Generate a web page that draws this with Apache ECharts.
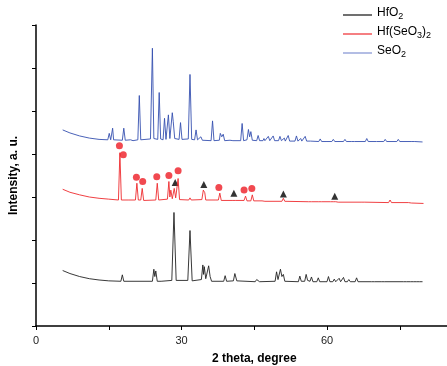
<!DOCTYPE html>
<html>
<head>
<meta charset="utf-8">
<script src="https://cdn.jsdelivr.net/npm/echarts@6/dist/echarts.min.js"></script>
<style>html,body{margin:0;padding:0;background:#fff}#c{width:447px;height:366px}</style>
</head>
<body>
<div id="c"></div>
<script>
// ---- data ----
const seriesNames = ['HfO2', 'Hf(SeO3)2', 'SeO2'];
const xTickLabels = [0, 30, 60];

const hfo2 = [[5.5,1.29],[7,1.22],[9,1.15],[11,1.1],[13,1.07],[15,1.05],[17.5,1.04],[17.8,1.19],[18.1,1.04],[24.0,1.04],[24.3,1.32],[24.5,1.15],[24.7,1.28],[25.0,1.04],[25.8,1.04],[26.0,1.06],[26.2,1.03],[28.0,1.06],[28.45,2.64],[28.9,1.06],[31.3,1.06],[31.75,2.22],[32.2,1.05],[34.1,1.08],[34.4,1.42],[34.55,1.2],[34.7,1.38],[35.0,1.1],[35.3,1.1],[35.6,1.4],[35.9,1.15],[36.2,1.04],[38.7,1.04],[39.0,1.17],[39.3,1.04],[40.7,1.05],[41.0,1.22],[41.4,1.05],[45.2,1.03],[45.5,1.08],[45.8,1.10],[46.1,1.03],[49.3,1.04],[49.6,1.26],[49.9,1.08],[50.1,1.1],[50.4,1.32],[50.7,1.15],[51.0,1.2],[51.3,1.04],[54.1,1.03],[54.4,1.16],[54.7,1.04],[55.4,1.04],[55.7,1.2],[56.0,1.06],[56.5,1.04],[56.8,1.14],[57.1,1.03],[57.9,1.03],[58.2,1.12],[58.5,1.03],[60.0,1.03],[60.3,1.15],[60.6,1.03],[61.2,1.03],[61.5,1.09],[61.8,1.03],[62.2,1.03],[62.5,1.11],[62.8,1.03],[63.1,1.03],[63.4,1.13],[63.7,1.03],[64.2,1.03],[64.5,1.08],[64.8,1.03],[65.8,1.03],[66.1,1.12],[66.4,1.03],[69.2,1.03],[69.5,1.06],[69.8,1.03],[71.3,1.03],[71.6,1.07],[71.9,1.03],[75.8,1.03],[76.1,1.07],[76.4,1.03],[77.2,1.03],[77.5,1.05],[77.8,1.03],[78.5,1.03],[78.8,1.05],[79.1,1.03],[79.7,1.03]];

const hfSeO3 = [[5.5,3.18],[7,3.11],[9,3.05],[11,3.0],[13,2.97],[15,2.95],[17.0,2.93],[17.3,4.03],[17.6,2.93],[19,2.93],[20.5,2.93],[20.8,3.32],[21.1,2.93],[21.6,2.93],[21.9,3.2],[22.2,2.92],[24.7,2.93],[25.0,3.32],[25.3,2.93],[27.1,2.95],[27.4,3.36],[27.6,3.0],[27.8,3.16],[28.1,2.96],[28.3,3.0],[28.5,3.2],[28.8,2.98],[29.0,3.0],[29.3,3.43],[29.6,2.94],[31.5,2.93],[31.75,2.98],[32.0,2.93],[34.2,2.94],[34.5,3.16],[34.8,3.1],[35.0,2.93],[37.1,2.93],[37.3,2.96],[37.6,2.93],[37.9,3.09],[38.2,2.92],[40.6,2.92],[40.9,2.96],[41.2,2.92],[42.9,2.92],[43.2,3.02],[43.5,2.91],[44.3,2.91],[44.6,3.05],[44.9,2.91],[46.6,2.91],[46.9,2.95],[47.2,2.9],[50.7,2.9],[51.0,2.97],[51.3,2.9],[56.2,2.89],[56.5,2.92],[56.8,2.89],[58.3,2.89],[58.6,2.93],[58.9,2.89],[60.7,2.89],[61.0,2.92],[61.3,2.89],[61.8,2.89],[62.0,2.91],[62.3,2.88],[67.2,2.88],[67.5,2.91],[67.8,2.88],[72.7,2.87],[73.0,2.93],[73.3,2.87],[76.8,2.87],[77.1,2.89],[77.4,2.86],[79.9,2.85]];

const seo2 = [[5.5,4.56],[7,4.49],[9,4.42],[11,4.37],[13,4.34],[14.8,4.33],[15.1,4.48],[15.4,4.33],[15.6,4.33],[15.8,4.6],[16.0,4.33],[17.8,4.32],[18.1,4.6],[18.4,4.32],[19.5,4.33],[20,4.31],[21.0,4.33],[21.3,5.36],[21.6,4.33],[23.6,4.35],[24.0,6.46],[24.3,4.36],[25.1,4.34],[25.4,5.43],[25.7,4.35],[26.2,4.33],[26.5,4.83],[26.8,4.34],[27.0,4.36],[27.3,4.91],[27.6,4.36],[27.8,4.40],[28.1,4.96],[28.3,4.75],[28.6,4.36],[29.5,4.34],[29.8,4.73],[30.1,4.34],[31.4,4.35],[31.75,5.85],[32.1,4.34],[32.7,4.33],[33.0,4.56],[33.3,4.33],[33.7,4.33],[34.0,4.4],[34.3,4.32],[36.1,4.31],[36.4,4.77],[36.7,4.31],[37.8,4.32],[38.0,4.48],[38.3,4.40],[38.6,4.46],[38.9,4.31],[40.0,4.32],[40.3,4.35],[40.6,4.31],[42.2,4.31],[42.5,4.71],[42.8,4.31],[43.5,4.33],[43.8,4.57],[44.05,4.40],[44.3,4.52],[44.6,4.32],[45.5,4.31],[45.8,4.43],[46.1,4.31],[46.8,4.31],[47.0,4.36],[47.2,4.31],[47.6,4.31],[47.9,4.41],[48.2,4.31],[48.6,4.31],[48.9,4.42],[49.2,4.31],[50.0,4.31],[50.3,4.41],[50.6,4.31],[51.0,4.31],[51.2,4.37],[51.4,4.30],[51.7,4.30],[52.0,4.43],[52.3,4.30],[53.4,4.30],[53.7,4.42],[54.0,4.30],[54.4,4.30],[54.6,4.36],[54.8,4.30],[55.2,4.30],[55.5,4.41],[55.8,4.30],[56.6,4.30],[56.8,4.34],[57.0,4.29],[58.3,4.29],[58.6,4.35],[58.9,4.29],[59.8,4.29],[60.0,4.33],[60.2,4.29],[61.0,4.29],[61.3,4.34],[61.6,4.29],[63.4,4.29],[63.7,4.34],[64.0,4.29],[65.1,4.29],[65.4,4.33],[65.7,4.29],[67.9,4.29],[68.2,4.36],[68.5,4.29],[70.2,4.29],[70.4,4.32],[70.6,4.29],[71.7,4.29],[72.0,4.34],[72.3,4.29],[74.4,4.29],[74.7,4.34],[75,4.29],[77.5,4.29],[77.8,4.33],[78.1,4.29],[79.7,4.28]];

const circleMarks = [[17.2,4.19],[18.0,3.98],[20.7,3.46],[22.0,3.36],[24.9,3.47],[27.4,3.5],[29.3,3.61],[37.7,3.22],[42.9,3.16],[44.5,3.2]];
const triangleMarks = [[28.7,3.34],[34.6,3.29],[40.8,3.09],[51.0,3.07],[61.6,3.02]];

// ---- chart ----
const FONT = 'Liberation Sans, Arial, sans-serif';
const lineColors = {'HfO2': '#222222', 'Hf(SeO3)2': '#ee2a2e', 'SeO2': '#3550b0'};
const legendColors = {'HfO2': '#222222', 'Hf(SeO3)2': '#f03a3e', 'SeO2': '#8a9ad6'};
const richName = {
  'HfO2': '{n|HfO}{s|2}',
  'Hf(SeO3)2': '{n|Hf(SeO}{s|3}{n|)}{s|2}',
  'SeO2': '{n|SeO}{s|2}'
};
const chart = echarts.init(document.getElementById('c'), null, {renderer: 'canvas'});
chart.setOption({
  animation: false,
  backgroundColor: '#ffffff',
  grid: {left: 36, top: 25, bottom: 40, width: 436.5, containLabel: false, outerBoundsMode: 'none'},
  legend: {
    data: seriesNames.map(n => ({name: n, icon: 'rect', itemStyle: {color: legendColors[n]}})),
    orient: 'vertical',
    left: 343,
    top: 7,
    padding: 0,
    itemWidth: 29,
    itemHeight: 1.3,
    itemGap: 3,
    formatter: name => richName[name],
    textStyle: {
      fontFamily: FONT,
      rich: {
        n: {fontSize: 12, fontFamily: FONT, color: '#000', lineHeight: 12, padding: [0, 0, 4, 0]},
        s: {fontSize: 9, fontFamily: FONT, color: '#000', lineHeight: 12, padding: [4, 0, 0, 0]}
      }
    }
  },
  xAxis: {
    type: 'value',
    min: 0, max: 90, interval: 15,
    name: '2 theta, degree',
    nameLocation: 'middle',
    nameGap: 27,
    nameTextStyle: {fontFamily: FONT, fontSize: 12, fontWeight: 'bold', color: '#000'},
    axisLine: {show: true, lineStyle: {color: '#000', width: 1.5}},
    axisTick: {show: true, length: 4, lineStyle: {color: '#000', width: 1}},
    splitLine: {show: false},
    axisLabel: {
      margin: 9, fontFamily: FONT, fontSize: 11, color: '#222',
      formatter: v => xTickLabels.indexOf(v) >= 0 ? String(v) : ''
    }
  },
  yAxis: {
    type: 'value',
    min: 0, max: 7, interval: 1,
    name: 'Intensity, a. u.',
    nameLocation: 'middle',
    nameGap: 16,
    nameTextStyle: {fontFamily: FONT, fontSize: 12, fontWeight: 'bold', color: '#000'},
    axisLine: {show: true, lineStyle: {color: '#000', width: 1.5}},
    axisTick: {show: true, length: 4, lineStyle: {color: '#000', width: 1}},
    splitLine: {show: false},
    axisLabel: {show: false}
  },
  series: [
    {name: 'HfO2', type: 'line', data: hfo2, symbol: 'none', color: lineColors['HfO2'], lineStyle: {color: lineColors['HfO2'], width: 0.9}},
    {name: 'Hf(SeO3)2', type: 'line', data: hfSeO3, symbol: 'none', color: lineColors['Hf(SeO3)2'], lineStyle: {color: lineColors['Hf(SeO3)2'], width: 0.9}},
    {name: 'SeO2', type: 'line', data: seo2, symbol: 'none', color: lineColors['SeO2'], lineStyle: {color: lineColors['SeO2'], width: 0.9}},
    {name: 'circles', type: 'scatter', data: circleMarks, symbol: 'circle', symbolSize: 7, itemStyle: {color: '#ee1c24'}},
    {name: 'triangles', type: 'scatter', data: triangleMarks, symbol: 'triangle', symbolSize: 7, itemStyle: {color: '#000'}}
  ]
});
</script>
</body>
</html>
